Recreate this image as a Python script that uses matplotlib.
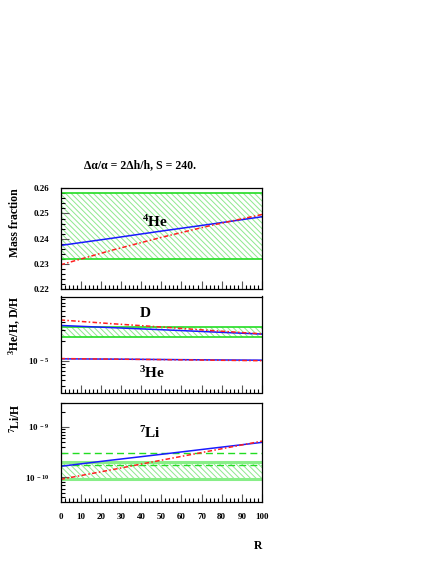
import matplotlib
matplotlib.use("Agg")
import matplotlib.pyplot as plt
import matplotlib.ticker as mticker
import numpy as np

plt.rcParams['font.family'] = ['Liberation Serif', 'DejaVu Serif']
plt.rcParams['font.weight'] = 'bold'
plt.rcParams['mathtext.fontset'] = 'custom'
plt.rcParams['mathtext.rm'] = 'Liberation Serif:bold'
plt.rcParams['mathtext.bf'] = 'Liberation Serif:bold'
plt.rcParams['mathtext.it'] = 'Liberation Serif:italic:bold'
plt.rcParams['hatch.linewidth'] = 0.7
plt.rcParams['hatch.color'] = '#8ee88e'

# ---------------- data ----------------
R = [0, 25, 50, 75, 100]
he4_blue = [0.2373, 0.2401, 0.2430, 0.2458, 0.2487]
he4_red = [0.2296, 0.2353, 0.2405, 0.2453, 0.2496]
he4_obs = [0.232, 0.258]

d_blue = [3.54e-5, 3.28e-5, 3.04e-5, 2.81e-5, 2.60e-5]
d_red = [4.31e-5, 3.78e-5, 3.35e-5, 2.95e-5, 2.62e-5]
d_obs = [2.31e-5, 3.39e-5]

he3_blue = [1.07e-5, 1.06e-5, 1.045e-5, 1.03e-5, 1.02e-5]
he3_red = [1.08e-5, 1.06e-5, 1.04e-5, 1.02e-5, 1.00e-5]

li_blue = [1.65e-10, 2.18e-10, 2.85e-10, 3.75e-10, 4.92e-10]
li_red = [0.91e-10, 1.40e-10, 2.18e-10, 3.37e-10, 5.2e-10]
li_obs = [0.925e-10, 1.98e-10]
li_obs_dashed = [1.75e-10, 3.06e-10]

title = "\u0394\u03b1/\u03b1 = 2\u0394h/h, S = 240."
x_ticks = [0, 10, 20, 30, 40, 50, 60, 70, 80, 90, 100]

# ---------------- figure ----------------
W, H = 436, 564
fig = plt.figure(figsize=(W / 100, H / 100), dpi=100)

left = 60.5 / W
width = (262 - 60.5) / W

def axbox(top_px, bot_px):
    return [left, 1 - bot_px / H, width, (bot_px - top_px) / H]

ax1 = fig.add_axes(axbox(188.3, 289))
ax2 = fig.add_axes(axbox(296.5, 392.5))
ax3 = fig.add_axes(axbox(402.7, 502.3))

green = '#22dd22'
hatch_col = '#8ee88e'
blue = '#1a1aff'
red = '#ff2020'
tick_fs = 6.5
HATCH = '\\' * 6
dashdot = (0, (3, 1.5, 1, 1.5))

for ax in (ax1, ax2, ax3):
    ax.set_xlim(0, 100)
    ax.xaxis.set_major_locator(mticker.FixedLocator(x_ticks))
    ax.xaxis.set_minor_locator(mticker.MultipleLocator(2))
    ax.tick_params(axis='both', which='both', direction='in', top=False, right=False)
    ax.tick_params(axis='both', which='major', length=6, width=0.8, labelsize=tick_fs, color='#555555')
    ax.tick_params(axis='both', which='minor', length=3, width=0.8, color='black')
    ax.tick_params(axis='y', which='major', pad=8)
    ax.tick_params(axis='x', which='major', pad=8)
    for s in ax.spines.values():
        s.set_linewidth(0.9)

ax1.tick_params(axis='x', labelbottom=False)
ax2.tick_params(axis='x', labelbottom=False)

# ---- top panel: 4He ----
ax1.set_ylim(0.22, 0.26)
ax1.yaxis.set_major_locator(mticker.MultipleLocator(0.01))
ax1.yaxis.set_minor_locator(mticker.MultipleLocator(0.002))
ax1.yaxis.set_major_formatter(mticker.FormatStrFormatter('%.2f'))
ax1.fill_between([0, 100], he4_obs[0], he4_obs[1], facecolor='none',
                 edgecolor=hatch_col, hatch=HATCH, linewidth=0)
ax1.axhline(he4_obs[0], color=green, lw=1.2)
ax1.axhline(he4_obs[1], color=green, lw=1.2)
ax1.plot(R, he4_blue, color=blue, lw=1.1)
ax1.plot(R, he4_red, color=red, lw=1.1, ls=dashdot)
ax1.text(47, 0.2465, r'$^{\mathbf{4}}$He', fontsize=11, fontweight='bold', ha='center', va='center')

# ---- middle panel: D and 3He ----
ax2.set_yscale('log')
ax2.set_ylim(3.2e-6, 1e-4)
ax2.yaxis.set_major_locator(mticker.FixedLocator([1e-5]))
ax2.yaxis.set_major_formatter(mticker.FixedFormatter([r'$10^{\ -5}$']))
ax2.yaxis.set_minor_locator(mticker.LogLocator(base=10, subs=np.arange(2, 10) * 1.0, numticks=20))
ax2.yaxis.set_minor_formatter(mticker.NullFormatter())
ax2.fill_between([0, 100], d_obs[0], d_obs[1], facecolor='none',
                 edgecolor=hatch_col, hatch=HATCH, linewidth=0)
ax2.axhline(d_obs[0], color=green, lw=1.2)
ax2.axhline(d_obs[1], color=green, lw=1.2)
ax2.plot(R, d_blue, color=blue, lw=1.1)
ax2.plot(R, d_red, color=red, lw=1.1, ls=dashdot)
ax2.plot(R, he3_blue, color=blue, lw=1.1)
ax2.plot(R, he3_red, color=red, lw=1.1, ls=dashdot)
ax2.text(42.3, 5.4e-5, 'D', fontsize=11, fontweight='bold', ha='center', va='center')
ax2.text(45.4, 6.5e-6, r'$^{\mathbf{3}}$He', fontsize=11, fontweight='bold', ha='center', va='center')

# ---- bottom panel: 7Li ----
ax3.set_yscale('log')
ax3.set_ylim(3.2e-11, 3e-9)
ax3.yaxis.set_major_locator(mticker.FixedLocator([1e-10, 1e-9]))
ax3.yaxis.set_major_formatter(mticker.FixedFormatter([r'$10^{\ -10}$', r'$10^{\ -9}$']))
ax3.yaxis.set_minor_locator(mticker.LogLocator(base=10, subs=np.arange(2, 10) * 1.0, numticks=20))
ax3.yaxis.set_minor_formatter(mticker.NullFormatter())
ax3.fill_between([0, 100], li_obs[0], li_obs[1], facecolor='none',
                 edgecolor=hatch_col, hatch=HATCH, linewidth=0)
ax3.axhline(li_obs[0], color='#88ee88', lw=2.2)
ax3.axhline(li_obs[1], color='#88ee88', lw=2.2)
ax3.axhline(li_obs_dashed[0], color=green, lw=1.0, ls=(0, (5, 3)))
ax3.axhline(li_obs_dashed[1], color=green, lw=1.0, ls=(0, (5, 3)))
ax3.plot(R, li_blue, color=blue, lw=1.1)
ax3.plot(R, li_red, color=red, lw=1.1, ls=dashdot)
ax3.text(44.4, 7.5e-10, r'$^{\mathbf{7}}$Li', fontsize=11, fontweight='bold', ha='center', va='center')

for ax in (ax1, ax2, ax3):
    for lab in ax.get_xticklabels() + ax.get_yticklabels():
        lab.set_fontweight('bold')

# ---- labels ----
fig.text(140 / W, 1 - 165 / H, title, fontsize=8.5, fontweight='bold', ha='center', va='center')
fig.text(15 / W, 1 - 188 / H, 'Mass fraction', rotation=90, fontsize=8.5,
         fontweight='bold', ha='center', va='top')
fig.text(15 / W, 1 - 295 / H, r'$^{3}$He/H, D/H', rotation=90, fontsize=8.5,
         fontweight='bold', ha='center', va='top')
fig.text(15 / W, 1 - 403 / H, r'$^{7}$Li/H', rotation=90, fontsize=8.5,
         fontweight='bold', ha='center', va='top')
fig.text(258 / W, 1 - 546 / H, 'R', fontsize=8.5, fontweight='bold', ha='center', va='center')

fig.savefig('out.png', dpi=100, facecolor='white')
